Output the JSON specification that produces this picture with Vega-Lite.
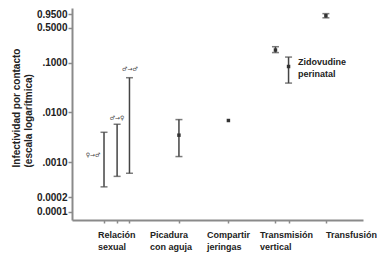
{
  "$schema": "https://vega.github.io/schema/vega-lite/v6.json",
  "width": 291,
  "height": 212,
  "autosize": {"type": "none"},
  "padding": {"left": 72, "top": 8, "right": 14, "bottom": 38},
  "background": "white",
  "config": {"view": {"stroke": null}, "font": "Liberation Sans"},
  "datasets": {
    "bars": [
      {"grupo": "Relación sexual", "serie": "♀→♂", "x": 1.32, "lo": 0.00032, "hi": 0.004},
      {"grupo": "Relación sexual", "serie": "♂→♀", "x": 1.86, "lo": 0.00052, "hi": 0.0058},
      {"grupo": "Relación sexual", "serie": "♂→♂", "x": 2.37, "lo": 0.0006, "hi": 0.05},
      {"grupo": "Picadura con aguja", "x": 4.41, "lo": 0.0013, "hi": 0.0072, "mid": 0.0035},
      {"grupo": "Compartir jeringas", "x": 6.45, "mid": 0.0069},
      {"grupo": "Transmisión vertical", "x": 8.39, "lo": 0.16, "hi": 0.21, "mid": 0.18},
      {"grupo": "Zidovudine perinatal", "x": 8.93, "lo": 0.039, "hi": 0.13, "mid": 0.084},
      {"grupo": "Transfusión", "x": 10.47, "lo": 0.8, "hi": 0.97, "mid": 0.88}
    ],
    "xlabels": [
      {"t": "Relación\nsexual", "x": 1.07},
      {"t": "Picadura\ncon aguja", "x": 3.22},
      {"t": "Compartir\njeringas", "x": 5.57},
      {"t": "Transmisión\nvertical", "x": 7.75},
      {"t": "Transfusión", "x": 10.47}
    ],
    "signs": [
      {"t": "♀→♂", "x": 0.87, "y": 0.00138},
      {"t": "♂→♀", "x": 1.86, "y": 0.0079},
      {"t": "♂→♂", "x": 2.39, "y": 0.076}
    ],
    "notes": [
      {"t": "Zidovudine\nperinatal", "x": 9.32, "y": 0.125}
    ]
  },
  "layer": [
    {
      "data": {"name": "bars"},
      "transform": [{"filter": "isValid(datum.lo)"}],
      "mark": {"type": "rule", "color": "#444", "strokeWidth": 1.5},
      "encoding": {
        "x": {
          "field": "x", "type": "quantitative",
          "scale": {"domain": [0, 12], "nice": false, "zero": false},
          "axis": {
            "values": [1.32, 1.86, 2.37, 4.41, 6.45, 8.39, 8.93, 10.47],
            "labels": false, "title": null, "grid": false,
            "domainColor": "#8a8a8a", "domainWidth": 2,
            "tickColor": "#8a8a8a", "tickSize": 3, "tickWidth": 1.5
          }
        },
        "y": {
          "field": "lo", "type": "quantitative",
          "scale": {"type": "log", "domain": [0.000069, 1.26], "nice": false},
          "axis": {
            "values": [0.95, 0.5, 0.1, 0.01, 0.001, 0.0002, 0.0001],
            "labelExpr": "datum.value == 0.95 ? '0.9500' : datum.value == 0.5 ? '0.5000' : datum.value == 0.1 ? '.1000' : datum.value == 0.01 ? '.0100' : datum.value == 0.001 ? '.0010' : datum.value == 0.0002 ? '0.0002' : '0.0001'",
            "labelFont": "Liberation Sans", "labelFontSize": 10, "labelFontWeight": "bold",
            "labelColor": "#222", "labelPadding": 1,
            "grid": false,
            "domainColor": "#8a8a8a", "domainWidth": 2,
            "tickColor": "#8a8a8a", "tickSize": 4, "tickWidth": 1.5,
            "title": ["Infectividad por contacto", "(escala logarítmica)"],
            "titleFont": "Liberation Sans", "titleFontSize": 10, "titleFontWeight": "bold",
            "titleColor": "#222", "titleAngle": -90, "titleAlign": "left",
            "titleBaseline": "top", "titleX": -61, "titleY": 159, "titleLineHeight": 12
          }
        },
        "y2": {"field": "hi"}
      }
    },
    {
      "data": {"name": "bars"},
      "transform": [{"filter": "isValid(datum.lo)"}],
      "mark": {"type": "tick", "orient": "horizontal", "color": "#444", "size": 7, "thickness": 1.5},
      "encoding": {
        "x": {"field": "x", "type": "quantitative"},
        "y": {"field": "lo", "type": "quantitative"}
      }
    },
    {
      "data": {"name": "bars"},
      "transform": [{"filter": "isValid(datum.hi)"}],
      "mark": {"type": "tick", "orient": "horizontal", "color": "#444", "size": 7, "thickness": 1.5},
      "encoding": {
        "x": {"field": "x", "type": "quantitative"},
        "y": {"field": "hi", "type": "quantitative"}
      }
    },
    {
      "data": {"name": "bars"},
      "transform": [{"filter": "isValid(datum.mid)"}],
      "mark": {"type": "point", "shape": "square", "filled": true, "color": "#333", "size": 12, "opacity": 1},
      "encoding": {
        "x": {"field": "x", "type": "quantitative"},
        "y": {"field": "mid", "type": "quantitative"}
      }
    },
    {
      "data": {"name": "xlabels"},
      "mark": {"type": "text", "align": "left", "baseline": "top", "dy": 11, "lineBreak": "\n", "lineHeight": 12, "font": "Liberation Sans", "fontSize": 9, "fontWeight": "bold", "color": "#222"},
      "encoding": {
        "x": {"field": "x", "type": "quantitative"},
        "y": {"datum": 0.000069, "type": "quantitative"},
        "text": {"field": "t"}
      }
    },
    {
      "data": {"name": "signs"},
      "mark": {"type": "text", "align": "center", "baseline": "middle", "font": "DejaVu Sans", "fontSize": 6, "color": "#444"},
      "encoding": {
        "x": {"field": "x", "type": "quantitative"},
        "y": {"field": "y", "type": "quantitative"},
        "text": {"field": "t"}
      }
    },
    {
      "data": {"name": "notes"},
      "mark": {"type": "text", "align": "left", "baseline": "top", "lineBreak": "\n", "lineHeight": 12, "font": "Liberation Sans", "fontSize": 9, "fontWeight": "bold", "color": "#222"},
      "encoding": {
        "x": {"field": "x", "type": "quantitative"},
        "y": {"field": "y", "type": "quantitative"},
        "text": {"field": "t"}
      }
    }
  ]
}
